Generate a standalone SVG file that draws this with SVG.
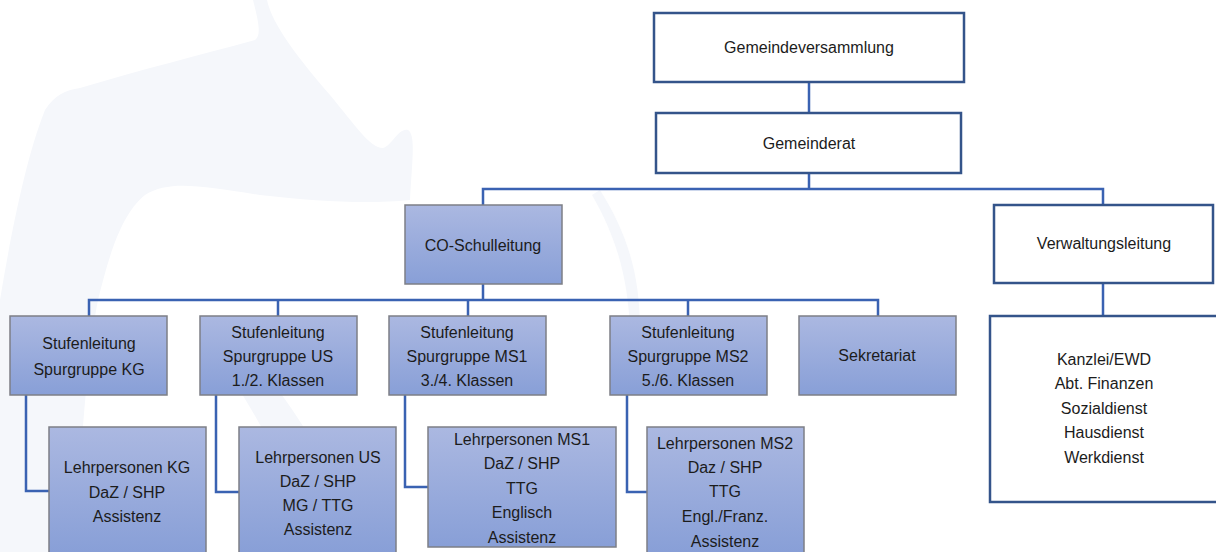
<svg xmlns="http://www.w3.org/2000/svg" width="1216" height="552" viewBox="0 0 1216 552">
<defs>
<linearGradient id="bg" x1="0" y1="0" x2="0" y2="1">
<stop offset="0" stop-color="#abb8e1"/>
<stop offset="1" stop-color="#889fd7"/>
</linearGradient>
<style>
.t{font-family:"Liberation Sans",Arial,sans-serif;font-size:16px;fill:#1c1c1c;text-anchor:middle}
.b{fill:url(#bg);stroke:#7d7f86;stroke-width:1.5}
.w{fill:#ffffff;stroke:#34548a;stroke-width:2.5}
.c{fill:none;stroke:#3a62b2;stroke-width:2.5}
.wm{fill:#f5f7fb}
</style>
</defs>
<rect width="1216" height="552" fill="#ffffff"/>
<g id="watermark">
<path class="wm" d="M253,0 L267,0 C272,25 300,60 330,95 C355,125 370,148 383,148 C392,146 398,128 408,130 C416,135 412,160 410,200 C370,204 320,202 260,195 C200,186 170,180 145,195 C120,215 108,260 98,300 C90,340 85,400 82,440 C80,480 78,520 78,552 L0,552 L0,300 C10,240 25,160 45,110 C55,95 65,90 80,88 C140,70 200,55 255,40 C262,35 258,20 253,0 Z"/>
<path class="wm" d="M600,190 C625,230 640,270 640,330 L630,330 C628,275 615,235 592,195 Z"/>
<path class="wm" d="M230,330 C280,390 330,450 360,552 L310,552 C290,470 250,400 205,340 Z"/>
</g>
<g id="connectors">
<path class="c" d="M809,82 V113"/>
<path class="c" d="M809,173 V189 M483,205 V189 H1103 V205"/>
<path class="c" d="M1103,282 V316"/>
<path class="c" d="M483,284 V300 M89,316 V300 H878 V316 M278,300 V316 M468,300 V316 M688,300 V316"/>
<path class="c" d="M26,395 V491 H49"/>
<path class="c" d="M216,395 V492 H239"/>
<path class="c" d="M405,395 V487 H428"/>
<path class="c" d="M627,395 V492 H647"/>
</g>
<g id="gemeindeversammlung">
<rect class="w" x="654" y="13" width="310" height="69"/>
<text class="t" x="809" y="53">Gemeindeversammlung</text>
</g>
<g id="gemeinderat">
<rect class="w" x="656" y="113" width="305" height="60"/>
<text class="t" x="809" y="149">Gemeinderat</text>
</g>
<g id="co-schulleitung">
<rect class="b" x="405" y="205" width="157" height="79"/>
<text class="t" x="483" y="251">CO-Schulleitung</text>
</g>
<g id="verwaltungsleitung">
<rect class="w" x="994" y="205" width="219" height="78"/>
<text class="t" x="1104" y="249">Verwaltungsleitung</text>
</g>
<g id="verwaltung-dienste">
<rect class="w" x="990" y="316" width="232" height="186"/>
<text class="t" x="1104" y="365">Kanzlei/EWD</text>
<text class="t" x="1104" y="389">Abt. Finanzen</text>
<text class="t" x="1104" y="414">Sozialdienst</text>
<text class="t" x="1104" y="438">Hausdienst</text>
<text class="t" x="1104" y="463">Werkdienst</text>
</g>
<g id="stufe-kg">
<rect class="b" x="10" y="316" width="157" height="79"/>
<text class="t" x="89" y="349">Stufenleitung</text>
<text class="t" x="89" y="375">Spurgruppe KG</text>
</g>
<g id="stufe-us">
<rect class="b" x="200" y="316" width="157" height="79"/>
<text class="t" x="278" y="338">Stufenleitung</text>
<text class="t" x="278" y="362">Spurgruppe US</text>
<text class="t" x="278" y="386">1./2. Klassen</text>
</g>
<g id="stufe-ms1">
<rect class="b" x="389" y="316" width="157" height="79"/>
<text class="t" x="467" y="338">Stufenleitung</text>
<text class="t" x="467" y="362">Spurgruppe MS1</text>
<text class="t" x="467" y="386">3./4. Klassen</text>
</g>
<g id="stufe-ms2">
<rect class="b" x="610" y="316" width="157" height="79"/>
<text class="t" x="688" y="338">Stufenleitung</text>
<text class="t" x="688" y="362">Spurgruppe MS2</text>
<text class="t" x="688" y="386">5./6. Klassen</text>
</g>
<g id="sekretariat">
<rect class="b" x="799" y="316" width="157" height="79"/>
<text class="t" x="877" y="361">Sekretariat</text>
</g>
<g id="lp-kg">
<rect class="b" x="49" y="427" width="157" height="126"/>
<text class="t" x="127" y="473">Lehrpersonen KG</text>
<text class="t" x="127" y="498">DaZ / SHP</text>
<text class="t" x="127" y="522">Assistenz</text>
</g>
<g id="lp-us">
<rect class="b" x="239" y="427" width="157" height="126"/>
<text class="t" x="318" y="463">Lehrpersonen US</text>
<text class="t" x="318" y="487">DaZ / SHP</text>
<text class="t" x="318" y="511">MG / TTG</text>
<text class="t" x="318" y="535">Assistenz</text>
</g>
<g id="lp-ms1">
<rect class="b" x="428" y="427" width="188" height="120"/>
<text class="t" x="522" y="445">Lehrpersonen MS1</text>
<text class="t" x="522" y="469">DaZ / SHP</text>
<text class="t" x="522" y="494">TTG</text>
<text class="t" x="522" y="518">Englisch</text>
<text class="t" x="522" y="543">Assistenz</text>
</g>
<g id="lp-ms2">
<rect class="b" x="647" y="427" width="157" height="126"/>
<text class="t" x="725" y="449">Lehrpersonen MS2</text>
<text class="t" x="725" y="473">Daz / SHP</text>
<text class="t" x="725" y="497">TTG</text>
<text class="t" x="725" y="522">Engl./Franz.</text>
<text class="t" x="725" y="547">Assistenz</text>
</g>
</svg>
